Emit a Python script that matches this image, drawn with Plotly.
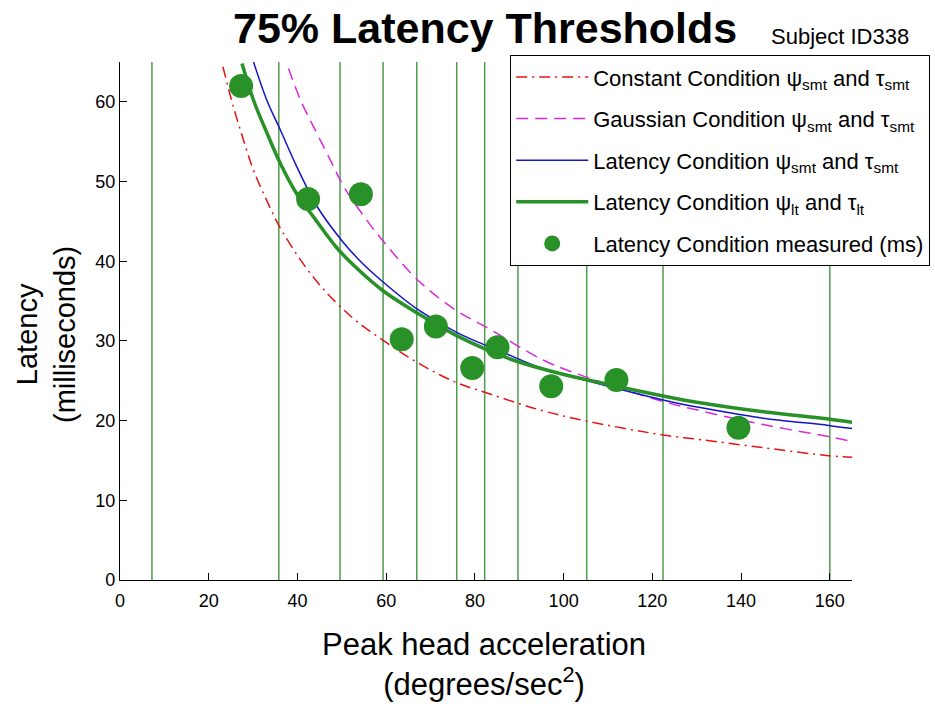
import plotly.graph_objects as go

# ---------------- data ----------------
const_x = [23.2, 25.6, 27.9, 30.1, 33.1, 36.5, 44.0, 52.0, 59.5, 67.0, 75.3, 83.6, 94.9, 104.7, 122.4, 131.1, 145.0, 159.7, 165.0]
const_y = [64.4, 59.3, 55.1, 51.4, 47.6, 43.8, 37.7, 33.1, 30.0, 27.3, 24.9, 23.3, 21.3, 20.0, 18.2, 17.6, 16.6, 15.6, 15.4]

gauss_x = [38.0, 40.7, 43.7, 47.5, 50.5, 55.7, 59.5, 67.0, 75.3, 83.6, 95.0, 102.4, 122.4, 131.1, 145.0, 159.7, 165.0]
gauss_y = [64.2, 60.2, 56.8, 52.6, 49.3, 45.1, 42.4, 37.7, 34.0, 31.4, 27.7, 26.0, 22.4, 21.2, 19.5, 18.0, 17.4]

lat_smt_x = [30.1, 33.1, 36.2, 39.9, 44.4, 49.7, 54.0, 59.5, 67.0, 76.1, 86.6, 95.0, 104.7, 122.4, 131.1, 145.0, 159.7, 165.0]
lat_smt_y = [65.0, 60.2, 56.4, 51.8, 46.9, 42.8, 40.1, 37.3, 34.0, 31.0, 28.5, 26.6, 25.1, 22.6, 21.6, 20.3, 19.4, 19.0]

lat_lt_x = [27.5, 30.1, 33.2, 36.2, 39.9, 43.7, 49.0, 54.0, 59.5, 67.0, 76.1, 88.1, 97.2, 104.7, 122.4, 131.1, 145.0, 159.7, 165.0]
lat_lt_y = [64.8, 60.2, 56.0, 52.2, 48.4, 45.5, 41.6, 38.8, 36.2, 33.5, 30.6, 27.7, 26.2, 25.2, 23.1, 22.2, 21.1, 20.2, 19.8]

meas_x = [27.3, 42.4, 54.3, 63.5, 71.2, 79.4, 85.1, 97.2, 111.9, 139.4]
meas_y = [62.0, 47.8, 48.4, 30.2, 31.8, 26.6, 29.2, 24.3, 25.1, 19.1]

stim_x = [7.2, 35.8, 49.6, 59.3, 66.9, 75.9, 82.2, 89.7, 105.2, 122.4, 160.0]

x_ticks = [0, 20, 40, 60, 80, 100, 120, 140, 160]
y_ticks = [0, 10, 20, 30, 40, 50, 60]

# ---------------- layout helpers ----------------
W, H = 935, 709
L, R, T, B = 120, 83, 62, 129
PW, PH = W - L - R, H - T - B


def px(p):
    return (p - L) / PW


def py(p):
    return (H - B - p) / PH


FONT = "Liberation Sans, Arial, Helvetica, sans-serif"
GREEN = "rgb(40,145,40)"
VGREEN = "rgb(80,155,80)"

fig = go.Figure()

for xv in stim_x:
    fig.add_vline(x=xv, line=dict(color=VGREEN, width=1.5), layer="below")

fig.add_trace(go.Scatter(
    x=const_x, y=const_y, mode="lines", line_shape="spline",
    line=dict(color="rgb(230,20,20)", width=1.5, dash="11px,5px,2px,5px"),
    name="Constant Condition ψ<sub>smt</sub> and τ<sub>smt</sub>", legendgroup="a"))
fig.add_trace(go.Scatter(
    x=gauss_x, y=gauss_y, mode="lines", line_shape="spline",
    line=dict(color="rgb(220,40,220)", width=1.5, dash="12px,7px"),
    name="Gaussian Condition ψ<sub>smt</sub> and τ<sub>smt</sub>", legendgroup="b"))
fig.add_trace(go.Scatter(
    x=lat_smt_x, y=lat_smt_y, mode="lines", line_shape="spline",
    line=dict(color="rgb(20,20,200)", width=1.5),
    name="Latency Condition ψ<sub>smt</sub> and τ<sub>smt</sub>", legendgroup="c"))
fig.add_trace(go.Scatter(
    x=lat_lt_x, y=lat_lt_y, mode="lines", line_shape="spline",
    line=dict(color=GREEN, width=3.5),
    name="Latency Condition ψ<sub>lt</sub> and τ<sub>lt</sub>", legendgroup="d"))
fig.add_trace(go.Scatter(
    x=meas_x, y=meas_y, mode="markers",
    marker=dict(color=GREEN, size=24, line=dict(width=0)),
    name="Latency Condition measured (ms)", legendgroup="e"))

fig.update_layout(
    width=W, height=H,
    margin=dict(l=L, r=R, t=T, b=B, pad=0, autoexpand=False),
    paper_bgcolor="white", plot_bgcolor="white",
    font=dict(family=FONT, size=18, color="black"),
    showlegend=True,
    legend=dict(
        x=px(510), y=py(55), xanchor="left", yanchor="top",
        bgcolor="white", bordercolor="black", borderwidth=1.2,
        font=dict(family=FONT, size=22, color="black"),
        tracegroupgap=10, itemwidth=72, traceorder="grouped",
    ),
    xaxis=dict(
        range=[0, 165], tickvals=x_ticks, ticktext=[str(v) for v in x_ticks],
        ticks="inside", ticklen=7, tickwidth=1, tickcolor="black",
        showline=True, linecolor="black", linewidth=1.2,
        showgrid=False, zeroline=False, mirror=False,
        tickfont=dict(size=18), ticklabelstandoff=4,
    ),
    yaxis=dict(
        range=[0, 65], tickvals=y_ticks, ticktext=[str(v) for v in y_ticks],
        ticks="inside", ticklen=7, tickwidth=1, tickcolor="black",
        showline=True, linecolor="black", linewidth=1.2,
        showgrid=False, zeroline=False, mirror=False,
        tickfont=dict(size=18),
    ),
    annotations=[
        dict(text="<b>75% Latency Thresholds</b>", xref="paper", yref="paper",
             x=px(485), y=py(28), xanchor="center", yanchor="middle",
             showarrow=False, font=dict(family=FONT, size=43, color="black")),
        dict(text="Subject ID338", xref="paper", yref="paper",
             x=px(840), y=py(37), xanchor="center", yanchor="middle",
             showarrow=False, font=dict(family=FONT, size=22, color="black")),
        dict(text="Peak head acceleration<br>(degrees/sec<sup>2</sup>)", xref="paper", yref="paper",
             x=px(484), y=py(664), xanchor="center", yanchor="middle",
             showarrow=False, font=dict(family=FONT, size=31, color="black")),
        dict(text="Latency<br>(milliseconds)", xref="paper", yref="paper",
             x=px(46), y=py(335), xanchor="center", yanchor="middle", textangle=-90,
             showarrow=False, font=dict(family=FONT, size=29, color="black")),
    ],
)

fig.write_html("out.html", config={"displayModeBar": False},
               post_script="document.body.style.margin='0px';")
